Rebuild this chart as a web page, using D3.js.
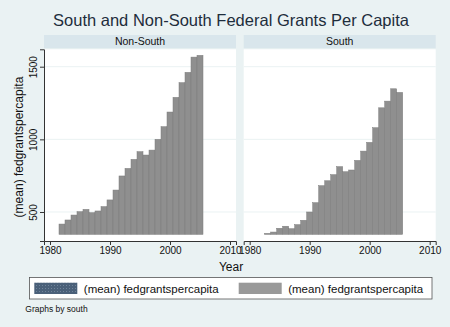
<!DOCTYPE html>
<html>
<head>
<meta charset="utf-8">
<script src="https://cdn.jsdelivr.net/npm/d3@7"></script>
<style>
body { margin: 0; background: #eaf2f3; }
text { font-family: "Liberation Sans", Arial, sans-serif; }
</style>
</head>
<body>
<div id="app"></div>
<script>
// data
const panels = ["Non-South", "South"]
const yearsNonSouth = d3.range(1982, 2006)
const valuesNonSouth = [417, 445, 479, 502, 518, 495, 507, 537, 583, 651, 748, 800, 862, 915, 892, 926, 1000, 1087, 1188, 1289, 1390, 1461, 1566, 1578]
const yearsSouth = d3.range(1983, 2006)
const valuesSouth = [353, 362, 388, 402, 385, 413, 443, 500, 564, 681, 715, 757, 812, 777, 789, 855, 919, 979, 1080, 1217, 1263, 1348, 1323]
const yTicks = [500, 1000, 1500]
const xTicks = [1980, 1990, 2000, 2010]
const barBase = 346

const W = 450, H = 327
const svg = d3.select("#app").append("svg").attr("width", W).attr("height", H)
svg.append("rect").attr("width", W).attr("height", H).attr("fill", "#eaf2f3")

svg.append("text").attr("x", 231).attr("y", 26).attr("text-anchor", "middle")
  .style("font-size", "16.5px").attr("fill", "#1e2d3c")
  .text("South and Non-South Federal Grants Per Capita")

const plotTop = 49.3, plotBottom = 241
const y = d3.scaleLinear().domain([300.4, 1619.7]).range([plotBottom, plotTop])

const panelX = [44, 243.7]
const panelW = 192
const series = [
  {years: yearsNonSouth, values: valuesNonSouth},
  {years: yearsSouth, values: valuesSouth}
]

panels.forEach((name, i) => {
  const x0 = panelX[i]
  const x = d3.scaleLinear().domain([1979, 2011]).range([x0, x0 + panelW])
  const g = svg.append("g")

  // strip
  g.append("rect").attr("x", x0).attr("y", 35).attr("width", panelW).attr("height", 13.3).attr("fill", "#d9e6ec")
  g.append("text").attr("x", x0 + panelW / 2).attr("y", 44.6).attr("text-anchor", "middle")
    .style("font-size", "10.5px").attr("fill", "#111").text(name)

  // plot region
  g.append("rect").attr("x", x0).attr("y", plotTop).attr("width", panelW).attr("height", plotBottom - plotTop).attr("fill", "#ffffff")
  g.selectAll(".grid").data(yTicks).join("line")
    .attr("x1", x0).attr("x2", x0 + panelW)
    .attr("y1", d => y(d)).attr("y2", d => y(d))
    .attr("stroke", "#eaf2f3").attr("stroke-width", 1)

  const s = series[i]
  g.selectAll(".bar").data(s.years).join("rect")
    .attr("x", d => x(d - 0.5))
    .attr("width", x(1) - x(0))
    .attr("y", (d, j) => y(s.values[j]))
    .attr("height", (d, j) => y(barBase) - y(s.values[j]))
    .attr("fill", "#8f8f8f").attr("stroke", "#7c7c7c").attr("stroke-width", 0.5)

  // x axis
  const xa = g.append("g").attr("transform", `translate(0,${plotBottom})`)
    .call(d3.axisBottom(x).tickValues(xTicks).tickFormat(d3.format("d")).tickSize(4).tickPadding(2))
  xa.select(".domain").attr("stroke", "#333")
  xa.selectAll(".tick line").attr("stroke", "#333")
  xa.selectAll("text").style("font-size", "10px").attr("fill", "#111").style("font-family", "Liberation Sans, Arial, sans-serif")

  if (i === 0) {
    const ya = g.append("g").attr("transform", `translate(${x0},0)`)
      .call(d3.axisLeft(y).tickValues(yTicks).tickFormat(d3.format("d")).tickSize(4).tickPadding(3))
    ya.select(".domain").attr("stroke", "#333")
    ya.selectAll(".tick line").attr("stroke", "#333")
    ya.selectAll("text").style("font-size", "10px").attr("fill", "#111")
      .style("font-family", "Liberation Sans, Arial, sans-serif")
      .attr("text-anchor", "middle").attr("dy", null)
      .attr("transform", "translate(-7,0) rotate(-90)").attr("x", 0).attr("y", 0)
  }
})

svg.append("text").attr("transform", "translate(23,147) rotate(-90)").attr("text-anchor", "middle")
  .style("font-size", "12px").attr("fill", "#111").text("(mean) fedgrantspercapita")

svg.append("text").attr("x", 231).attr("y", 270.5).attr("text-anchor", "middle")
  .style("font-size", "12px").attr("fill", "#111").text("Year")

// legend
const lg = svg.append("g")
lg.append("rect").attr("x", 29.5).attr("y", 277.5).attr("width", 402.5).attr("height", 21.5)
  .attr("fill", "#ffffff").attr("stroke", "#555").attr("stroke-width", 0.8)
const defs = svg.append("defs")
const pat = defs.append("pattern").attr("id", "dots").attr("width", 3).attr("height", 3).attr("patternUnits", "userSpaceOnUse")
pat.append("rect").attr("width", 3).attr("height", 3).attr("fill", "#4a6079")
pat.append("rect").attr("width", 1).attr("height", 1).attr("fill", "#6f8399")
const legendItems = [
  {label: "(mean) fedgrantspercapita", fill: "url(#dots)", x: 34.3},
  {label: "(mean) fedgrantspercapita", fill: "#999999", x: 238.7}
]
legendItems.forEach(it => {
  lg.append("rect").attr("x", it.x).attr("y", 282.7).attr("width", 43).attr("height", 11.3).attr("fill", it.fill)
  lg.append("text").attr("x", it.x + 49.5).attr("y", 292.5).style("font-size", "11.5px").attr("fill", "#111").text(it.label)
})

svg.append("text").attr("x", 25.3).attr("y", 311.5).style("font-size", "8.5px").attr("fill", "#111").text("Graphs by south")
</script>
</body>
</html>
